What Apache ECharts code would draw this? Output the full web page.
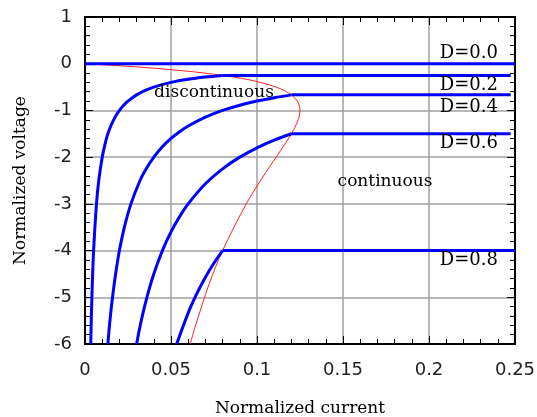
<!DOCTYPE html>
<html>
<head>
<meta charset="utf-8">
<script src="https://cdn.jsdelivr.net/npm/echarts@6/dist/echarts.min.js"></script>
<style>
    html, body { margin: 0; padding: 0; background: #fff; }
    #chart { width: 537px; height: 417px; }
</style>
</head>
<body>
<div id="chart"></div>
<script type="text/javascript">
    // discontinuous-mode branches, [current, voltage]
    var dcm02 = [[0.00333, -6], [0.004, -5], [0.005, -4], [0.00667, -3], [0.008, -2.5], [0.01, -2], [0.012, -1.667],
                 [0.0133, -1.5], [0.015, -1.333], [0.0175, -1.143], [0.02, -1], [0.0225, -0.889], [0.025, -0.8],
                 [0.03, -0.667], [0.035, -0.571], [0.04, -0.5], [0.05, -0.4], [0.06, -0.333], [0.07, -0.286], [0.08, -0.25]];
    var dcm04 = [[0.0133, -6], [0.0145, -5.5], [0.016, -5], [0.0178, -4.5], [0.02, -4], [0.0229, -3.5], [0.0267, -3],
                 [0.032, -2.5], [0.0356, -2.25], [0.04, -2], [0.045, -1.778], [0.05, -1.6], [0.055, -1.455],
                 [0.06, -1.333], [0.07, -1.143], [0.08, -1], [0.09, -0.889], [0.1, -0.8], [0.11, -0.727], [0.12, -0.667]];
    var dcm06 = [[0.03, -6], [0.0327, -5.5], [0.036, -5], [0.04, -4.5], [0.045, -4], [0.05, -3.6], [0.055, -3.273],
                 [0.06, -3], [0.07, -2.571], [0.08, -2.25], [0.09, -2], [0.1, -1.8], [0.11, -1.636], [0.12, -1.5]];
    var dcm08 = [[0.0533, -6], [0.06, -5.333], [0.065, -4.923], [0.07, -4.571], [0.075, -4.267], [0.08, -4]];

    // continuous-mode levels
    var ccmLabels = ['D=0.0', 'D=0.2', 'D=0.4', 'D=0.6', 'D=0.8'];
    var ccmStart = [0, 0.08, 0.12, 0.12, 0.08];
    var ccmEnd = [0.25, 0.2475, 0.2475, 0.2475, 0.25];
    var ccmLevel = [0, -0.25, -0.667, -1.5, -4];

    // boundary between the two modes
    var boundary = [[0, 0], [0.02375, -0.0526], [0.045, -0.111], [0.06375, -0.176], [0.08, -0.25], [0.09375, -0.333],
                    [0.105, -0.429], [0.11375, -0.538], [0.12, -0.667], [0.12375, -0.818], [0.125, -1], [0.12375, -1.222],
                    [0.12, -1.5], [0.11375, -1.857], [0.105, -2.333], [0.09375, -3], [0.08, -4], [0.0722, -4.714],
                    [0.06375, -5.667], [0.0612, -6]];

    var xTicks = [0, 0.05, 0.1, 0.15, 0.2, 0.25];
    var yTicks = [-6, -5, -4, -3, -2, -1, 0, 1];

    var font = 'DejaVu Serif';
    var tickFont = 'DejaVu Sans';
    var blue = '#0000ff';

    var series = [];
    series.push({
        type: 'line', data: boundary, smooth: 0.3, showSymbol: false, z: 2,
        lineStyle: {color: '#ff2020', width: 1}
    });
    [dcm02, dcm04, dcm06, dcm08].forEach(function (d) {
        series.push({
            type: 'line', data: d, smooth: 0.3, showSymbol: false, z: 3,
            lineStyle: {color: blue, width: 3}
        });
    });
    for (var i = 0; i < ccmLevel.length; i++) {
        series.push({
            type: 'line', data: [[ccmStart[i], ccmLevel[i]], [ccmEnd[i], ccmLevel[i]]],
            showSymbol: false, z: 3,
            lineStyle: {color: blue, width: 3}
        });
    }

    var labelY = [53, 85, 107, 143, 260];
    var graphics = ccmLabels.map(function (t, i) {
        return {
            type: 'text', x: 498, y: labelY[i], z: 10,
            style: {text: t, font: '18px ' + font, fill: '#000', textAlign: 'right', textVerticalAlign: 'middle'}
        };
    });
    graphics.push({
        type: 'text', x: 214, y: 93, z: 10,
        style: {text: 'discontinuous', font: '17px ' + font, fill: '#000', textAlign: 'center', textVerticalAlign: 'middle'}
    });
    graphics.push({
        type: 'text', x: 385, y: 182, z: 10,
        style: {text: 'continuous', font: '17px ' + font, fill: '#000', textAlign: 'center', textVerticalAlign: 'middle'}
    });

    var tickStyle = {show: true, inside: true, length: 8, lineStyle: {color: '#000', width: 1}};
    var minorStyle = {show: true, splitNumber: 5, length: 5, lineStyle: {color: '#000', width: 1}};
    var lineAxis = {show: true, onZero: false, lineStyle: {color: '#000', width: 2}};

    var myChart = echarts.init(document.getElementById('chart'));
    var option = {
        animation: false,
        backgroundColor: '#fff',
        grid: {left: 85, right: 22, top: 17, bottom: 73, outerBoundsMode: 'none'},
        xAxis: [{
            type: 'value', min: xTicks[0], max: xTicks[xTicks.length - 1], interval: 0.05,
            name: 'Normalized current', nameLocation: 'middle', nameGap: 56,
            nameTextStyle: {fontFamily: font, fontSize: 17, color: '#000'},
            axisLine: lineAxis, axisTick: tickStyle, minorTick: minorStyle,
            axisLabel: {fontFamily: tickFont, fontSize: 18, color: '#222', margin: 17,
                formatter: function (v) { return String(+v.toFixed(2)); }},
            splitLine: {show: true, lineStyle: {color: '#a0a0a0', width: 1.5}}
        }, {
            type: 'value', position: 'top', min: xTicks[0], max: xTicks[xTicks.length - 1], interval: 0.05,
            axisLine: lineAxis, axisTick: tickStyle, minorTick: minorStyle,
            axisLabel: {show: false}, splitLine: {show: false}
        }],
        yAxis: [{
            type: 'value', min: yTicks[0], max: yTicks[yTicks.length - 1], interval: 1,
            name: 'Normalized voltage', nameLocation: 'middle', nameGap: 56,
            nameTextStyle: {fontFamily: font, fontSize: 17, color: '#000'},
            axisLine: lineAxis, axisTick: tickStyle, minorTick: minorStyle,
            axisLabel: {fontFamily: tickFont, fontSize: 18, color: '#222', margin: 13},
            splitLine: {show: true, lineStyle: {color: '#a0a0a0', width: 1.5}}
        }, {
            type: 'value', position: 'right', min: yTicks[0], max: yTicks[yTicks.length - 1], interval: 1,
            axisLine: lineAxis, axisTick: tickStyle, minorTick: minorStyle,
            axisLabel: {show: false}, splitLine: {show: false}
        }],
        series: series,
        graphic: graphics
    };
    myChart.setOption(option);
</script>
</body>
</html>
